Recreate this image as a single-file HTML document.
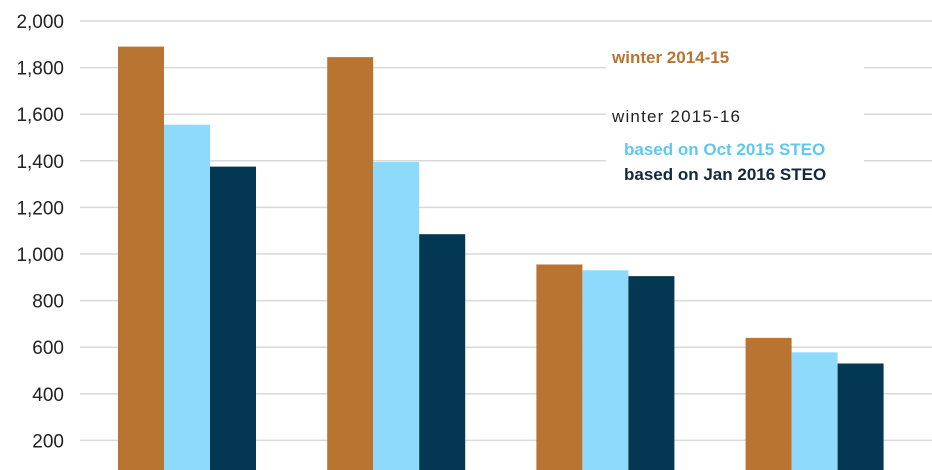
<!DOCTYPE html>
<html><head><meta charset="utf-8"><style>
html,body{margin:0;padding:0;background:#fff;}
svg{display:block;font-family:"Liberation Sans",Arial,sans-serif;}
</style></head><body>
<svg id="chart" width="932" height="470" viewBox="0 0 932 470">
<g id="grid"></g><g id="bars"></g><g id="ticks"></g>
<rect x="606" y="38" width="258" height="154" fill="#fff"/>
<text x="612" y="63" font-size="17" font-weight="bold" fill="#b87430">winter 2014-15</text>
<text x="612" y="122" font-size="17" fill="#222" textLength="128">winter 2015-16</text>
<text x="624" y="155" font-size="17" font-weight="bold" fill="#5ec8f5">based on Oct 2015 STEO</text>
<text x="624" y="180" font-size="17" font-weight="bold" fill="#10293d">based on Jan 2016 STEO</text>
</svg>
<script>
const categories=["Region A","Region B","Region C","Region D"];
const winter1415=[1890,1845,955,640];
const oct2015=[1555,1395,930,578];
const jan2016=[1375,1085,905,530];
const tickValues=[200,400,600,800,1000,1200,1400,1600,1800,2000];
const tickLabels=["200","400","600","800","1,000","1,200","1,400","1,600","1,800","2,000"];
const NS="http://www.w3.org/2000/svg";
function y(v){return 21+(2000-v)/200*46.6;}
function x(i){return 118+i*209.2;}
const barW=46;
const grid=document.getElementById('grid'),bars=document.getElementById('bars'),ticks=document.getElementById('ticks');
tickValues.forEach((v,i)=>{
 const l=document.createElementNS(NS,'line');
 
 
 l.setAttribute('x1',80);l.setAttribute('x2',932);l.setAttribute('y1',y(v));l.setAttribute('y2',y(v));
 l.setAttribute('stroke','#d9d9d9');l.setAttribute('stroke-width','1.5');grid.appendChild(l);
 const t=document.createElementNS(NS,'text');
 
 
 t.setAttribute('x',64);t.setAttribute('y',y(v)+7);t.setAttribute('text-anchor','end');
 t.setAttribute('font-size','19');t.setAttribute('fill','#222');t.textContent=tickLabels[i];ticks.appendChild(t);
});
const series=[[winter1415,'#b87430'],[oct2015,'#8ddafd'],[jan2016,'#033752']];
categories.forEach((c,i)=>{
 series.forEach((s,j)=>{
  const r=document.createElementNS(NS,'rect');
  
  
  const v=s[0][i];
  r.setAttribute('x',x(i)+j*barW);r.setAttribute('y',y(v));r.setAttribute('width',barW);
  r.setAttribute('height',Math.max(0,y(0)-y(v)));r.setAttribute('fill',s[1]);bars.appendChild(r);
 });
});
</script>
</body></html>
